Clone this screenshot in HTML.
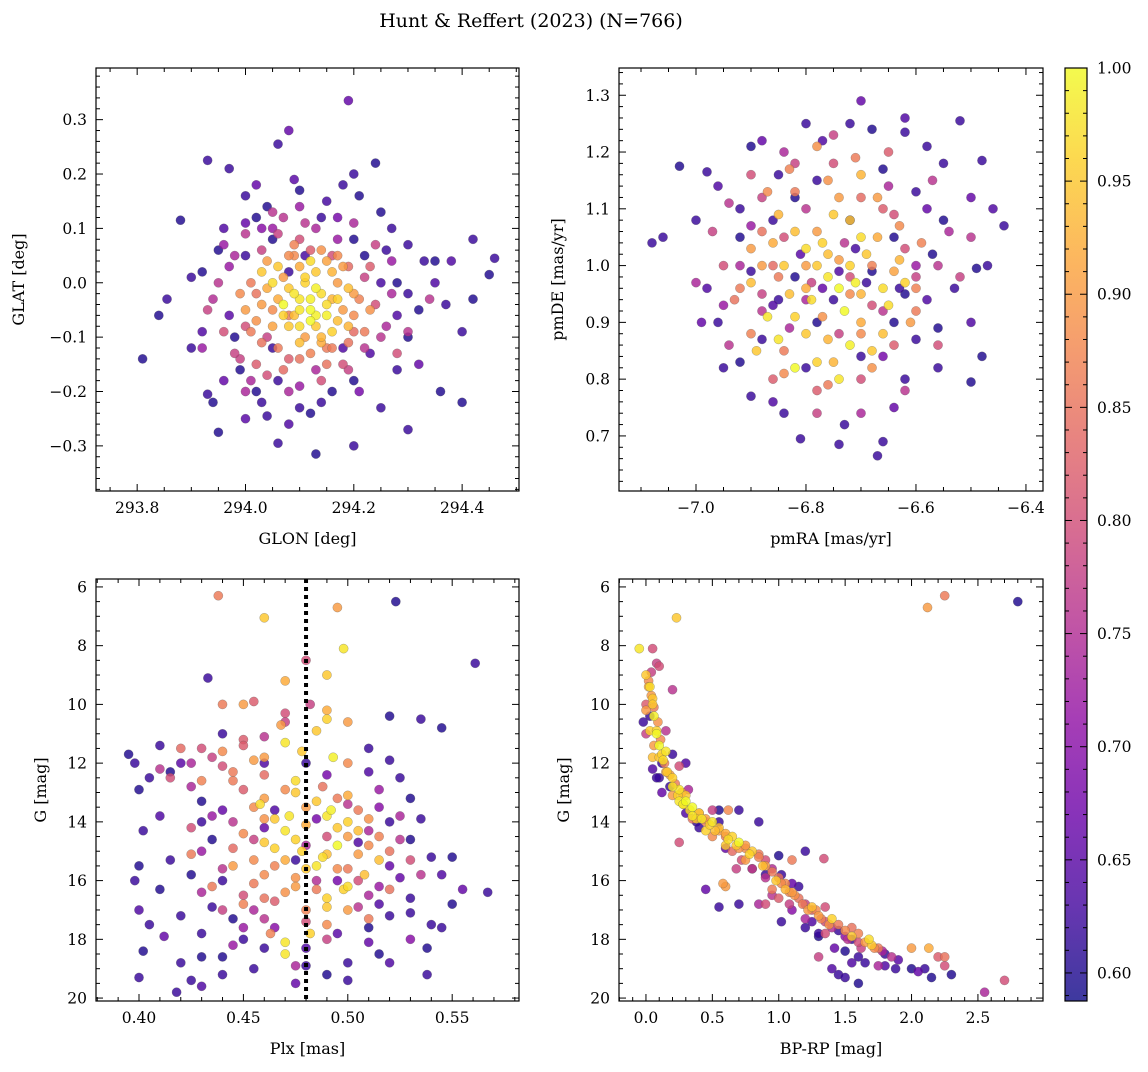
<!DOCTYPE html>
<html><head><meta charset="utf-8">
<style>
html,body{margin:0;padding:0;background:#fff;}
svg text{font-family:"DejaVu Serif","Liberation Serif",serif;fill:#000;}
</style></head>
<body>
<svg id="fig" width="1148" height="1067" viewBox="0 0 1148 1067" xmlns="http://www.w3.org/2000/svg">
<text x="531" y="27" font-size="19" text-anchor="middle">Hunt &amp; Reffert (2023) (N=766)</text>
</svg>
<script>
// ---- Panel 1: GLON / GLAT ----
const p1x=[293.81,293.84,293.855,293.88,293.9,293.92,293.93,293.94,293.95,293.93,293.97,293.96,293.95,293.97,293.99,294.0,294.02,294.04,294.06,294.08,294.1,294.14,294.15,294.19,294.2,294.21,294.24,294.25,294.27,294.3,294.33,294.35,294.38,294.42,294.46,294.45,294.42,294.4,294.36,294.4,294.3,294.28,294.2,294.13,294.06,294.04,294.1,294.12,294.16,294.25,294.0,294.02,294.06,294.2,294.3,294.32,294.28,294.3,293.98,294.0,294.05,294.2,294.22,294.18,294.05,294.08,
293.94,293.97,293.99,294.0,294.02,294.03,294.05,294.07,294.1,294.12,294.16,294.19,294.22,294.24,294.26,294.22,294.18,294.13,294.08,294.04,294.1,294.15,294.01,294.27,294.24,294.03,294.13,294.34,294.08,294.2,
294.06,294.08,294.1,294.11,294.12,294.14,294.15,294.13,294.16,294.18,294.09,294.07,294.1,294.13,294.17,294.05,294.11,294.14,294.19,294.12,294.16,294.03,294.2,294.09,294.15,294.1];
const p1y=[-0.14,-0.06,-0.03,0.115,-0.12,0.02,0.225,-0.22,-0.275,-0.205,0.21,0.1,0.06,-0.06,-0.16,0.16,0.12,0.14,0.255,0.28,0.17,0.12,0.15,0.335,0.2,0.16,0.22,0.13,0.1,0.07,0.04,0.04,0.04,0.08,0.045,0.015,-0.03,-0.09,-0.2,-0.22,-0.27,-0.16,-0.3,-0.315,-0.295,-0.245,-0.23,-0.24,-0.2,-0.23,-0.25,-0.2,-0.18,-0.18,-0.1,-0.05,0.0,-0.02,-0.1,0.05,0.08,0.08,0.05,-0.12,-0.12,0.02,
-0.03,0.03,-0.14,-0.08,-0.02,0.06,0.1,0.12,0.08,0.06,0.05,0.03,0.01,-0.04,-0.08,-0.12,-0.15,-0.16,-0.14,-0.1,-0.19,-0.12,-0.18,0.04,0.07,0.1,0.1,-0.03,-0.06,-0.09,
-0.03,-0.01,-0.03,0.0,-0.05,-0.02,-0.06,-0.08,-0.03,-0.05,-0.06,0.01,0.03,0.02,0.0,-0.05,-0.1,-0.11,-0.08,-0.03,-0.09,-0.04,-0.02,0.05,0.04,-0.08];
const p1p=[.6,.6,.62,.6,.62,.6,.62,.6,.6,.62,.62,.64,.6,.65,.6,.62,.6,.6,.62,.66,.6,.62,.63,.66,.62,.6,.6,.6,.62,.62,.62,.6,.64,.62,.62,.6,.6,.62,.6,.6,.62,.62,.62,.6,.62,.62,.62,.6,.6,.62,.65,.6,.62,.6,.6,.6,.6,.62,.6,.62,.6,.6,.6,.64,.62,.62,
.75,.72,.78,.8,.85,.78,.72,.76,.8,.82,.8,.84,.78,.8,.74,.76,.8,.74,.82,.78,.72,.86,.74,.72,.78,.7,.74,.76,.86,.84,
.92,.95,.98,.96,1.0,.97,.99,.95,.93,.9,.94,.9,.92,.95,.9,.88,.9,.92,.93,.99,.96,.9,.9,.88,.91,.97];
const p1xB=[294.03,294.05,294.07,294.09,294.11,294.13,294.15,294.17,294.12,294.1,294.08,294.14,294.17,294.19,294.06,294.12,294.16,294.1,294.13,294.07,
293.99,294.0,294.01,294.02,294.03,294.04,294.05,294.06,294.08,294.1,294.12,294.14,294.16,294.18,294.2,294.21,294.22,294.23,294.19,294.04,294.17,294.09,294.01,294.15,294.07,
293.93,293.95,293.96,293.98,294.0,294.02,294.04,294.06,294.08,294.11,294.14,294.17,294.19,294.23,294.25,294.27,294.28,293.96,294.05,294.0,293.92,294.3,294.2,294.1,293.98,
293.9,293.92,294.0,294.03,294.09,294.17,294.23,294.26,294.32,294.37,294.35,293.96,294.14,294.08,294.25,294.21,294.18,294.02,294.28,294.11];
const p1yB=[0.02,0.0,-0.04,-0.02,0.01,-0.01,-0.04,-0.07,-0.07,-0.05,-0.08,-0.1,-0.03,-0.01,0.03,0.04,0.02,-0.11,-0.06,-0.06,
-0.02,-0.05,0.0,-0.07,-0.11,0.04,-0.08,-0.12,0.05,-0.14,-0.13,0.06,-0.12,0.03,-0.06,-0.03,-0.09,-0.05,-0.11,-0.01,0.05,0.07,-0.09,-0.15,-0.16,
-0.05,0.0,-0.09,0.05,0.09,-0.15,-0.17,0.09,-0.2,0.11,-0.18,0.08,-0.16,0.03,-0.1,-0.02,-0.13,0.07,0.13,-0.2,-0.12,-0.09,0.11,0.14,-0.13,
0.01,-0.09,0.11,-0.22,0.19,0.12,-0.13,0.06,-0.15,-0.04,0.0,-0.18,-0.22,-0.26,0.0,-0.2,0.18,0.18,-0.06,0.05];
const p1pB=[.95,.97,1.0,.98,.96,.99,.97,.94,1.0,.98,.95,.93,.96,.94,.95,.97,.93,.94,.99,.96,
.88,.9,.86,.89,.85,.9,.91,.86,.88,.85,.87,.89,.86,.9,.88,.87,.86,.89,.85,.92,.88,.87,.86,.85,.84,
.78,.76,.8,.74,.76,.82,.8,.78,.74,.76,.8,.72,.78,.82,.76,.74,.8,.72,.76,.74,.72,.76,.74,.72,.78,
.62,.64,.66,.62,.65,.68,.64,.62,.66,.62,.64,.66,.62,.64,.63,.68,.62,.66,.64,.63];

// ---- Panel 2: pmRA / pmDE ----
const p2x=[-7.08,-7.06,-7.03,-6.98,-6.9,-6.85,-6.77,-6.7,-6.72,-6.68,-6.62,-6.58,-6.52,-6.48,-6.44,-6.46,-6.49,-6.53,-6.48,-6.5,-6.56,-6.6,-6.62,-6.67,-6.66,-6.74,-6.81,-6.84,-6.9,-6.92,-6.88,-6.96,-6.98,-6.92,-6.86,-6.82,-6.78,-6.66,-6.6,-6.55,-6.57,-6.62,-6.64,-6.7,-6.8,-6.85,-6.82,-6.75,-6.68,-6.72,-6.64,-6.78,-6.58,-6.9,
-6.95,-6.92,-6.88,-6.84,-6.8,-6.75,-6.7,-6.66,-6.62,-6.6,-6.64,-6.7,-6.78,-6.84,-6.88,-6.86,-6.74,-6.68,-6.56,-6.9,-6.8,-6.73,-6.65,-6.82,-6.6,-6.95,
-6.76,-6.74,-6.78,-6.72,-6.8,-6.7,-6.76,-6.84,-6.82,-6.85,-6.76,-6.68,-6.7,-6.67,-6.72,-6.78,-6.88,-6.9,-6.82,-6.75,-6.66,-6.74,-6.8,-6.64,-6.86,-6.7];
const p2y=[1.04,1.05,1.175,1.165,1.21,1.16,1.22,1.29,1.25,1.24,1.235,1.21,1.255,1.185,1.07,1.1,0.995,0.96,0.84,0.795,0.89,0.87,0.8,0.665,0.69,0.685,0.695,0.74,0.77,0.83,0.87,0.9,0.96,1.05,1.08,1.12,1.15,1.17,1.13,1.08,1.02,0.95,0.9,0.84,0.82,0.94,0.98,0.94,0.99,1.08,1.05,0.9,0.94,0.99,
1.0,0.96,1.12,1.05,1.1,1.18,1.12,1.1,1.03,0.98,0.86,0.8,0.78,0.85,0.92,1.0,0.88,0.93,1.0,1.07,0.94,1.04,1.14,1.18,0.92,0.93,
0.98,0.96,1.0,1.0,0.96,0.95,1.02,1.0,0.91,0.87,0.87,0.85,0.9,1.05,1.08,1.06,1.0,0.97,0.82,0.83,0.96,1.12,1.03,0.99,1.04,1.16];
const p2p=[.62,.62,.6,.62,.6,.62,.64,.66,.62,.6,.62,.62,.62,.62,.62,.64,.6,.62,.6,.6,.6,.62,.62,.62,.62,.62,.62,.62,.62,.6,.62,.62,.64,.6,.62,.6,.62,.6,.62,.6,.6,.6,.6,.62,.62,.62,.6,.62,.6,.62,.6,.6,.64,.62,
.8,.86,.78,.8,.76,.8,.84,.82,.8,.78,.82,.8,.82,.86,.76,.84,.78,.8,.76,.72,.74,.76,.74,.78,.86,.72,
.98,1.0,.95,.96,.92,.93,.94,.95,.96,.98,.93,.95,.92,.92,.95,.9,.9,.94,1.0,.93,.97,.9,.97,.91,.92,.93];
const p2xB=[-6.79,-6.71,-6.69,-6.73,-6.77,-6.83,-6.65,-6.63,-6.87,-6.8,-6.72,-6.78,-6.66,-6.85,-6.75,-6.7,-6.82,-6.62,-6.74,-6.89,
-6.9,-6.87,-6.83,-6.78,-6.71,-6.67,-6.63,-6.59,-6.61,-6.68,-6.76,-6.84,-6.9,-6.93,-6.8,-6.72,-6.77,-6.68,-6.85,-6.74,-6.88,-6.7,-6.6,-6.82,-6.76,
-6.97,-6.94,-6.9,-6.84,-6.75,-6.65,-6.57,-6.54,-6.52,-6.56,-6.62,-6.7,-6.78,-6.86,-6.94,-7.0,-6.72,-6.79,-6.66,-6.83,-6.64,-6.6,-6.88,-6.5,-6.92,
-7.0,-6.96,-6.88,-6.8,-6.62,-6.55,-6.5,-6.47,-6.5,-6.56,-6.64,-6.73,-6.86,-6.95,-6.99,-6.74,-6.69,-6.77,-6.71,-6.81,-6.63,-6.86,-6.58,-6.92,-6.66];
const p2yB=[0.94,0.97,1.02,0.92,1.04,0.95,0.93,1.01,0.91,0.88,0.86,0.83,0.88,1.09,1.09,1.05,1.06,0.97,0.8,0.85,
1.03,1.13,1.17,1.21,1.19,1.12,1.07,1.04,0.9,0.82,0.79,0.81,0.88,0.94,1.0,0.95,0.91,1.0,0.98,1.01,1.06,0.88,0.96,1.13,1.15,
1.06,1.11,1.16,1.2,1.23,1.2,1.15,1.06,0.98,0.86,0.78,0.74,0.74,0.8,0.86,0.97,0.98,0.97,0.92,0.89,1.09,1.0,0.95,1.05,1.0,
1.08,1.14,1.22,1.25,1.26,1.18,1.12,1.0,0.9,0.82,0.75,0.72,0.76,0.82,0.9,0.99,0.97,0.96,1.03,1.02,0.96,0.93,1.1,1.1,0.84];
const p2pB=[.97,.99,.95,1.0,.96,.94,.97,.93,.98,.95,.99,.96,.94,.93,.95,.97,.94,.96,.98,.95,
.9,.88,.87,.89,.86,.9,.88,.87,.9,.89,.86,.88,.87,.85,.9,.88,.89,.87,.86,.9,.85,.88,.87,.86,.89,
.78,.76,.8,.74,.78,.82,.76,.74,.78,.8,.76,.74,.78,.82,.76,.74,.8,.78,.76,.74,.8,.72,.78,.76,.74,
.62,.64,.66,.62,.64,.62,.66,.62,.64,.62,.66,.62,.64,.62,.66,.64,.62,.66,.63,.65,.62,.64,.66,.62,.68];

// ---- Panel 3: Plx / G ----
const p3x=[0.438,0.46,0.495,0.498,0.523,0.561,0.47,0.433,0.48,0.49,0.45,0.44,0.455,0.49,0.5,0.485,0.52,0.535,0.545,0.47,0.46,0.43,0.42,0.41,0.395,0.398,0.4,0.402,0.4,0.398,0.41,0.405,0.402,0.4,0.418,0.425,0.43,0.42,0.415,0.42,0.425,0.43,0.44,0.445,0.45,0.455,0.46,0.465,0.47,0.475,0.48,0.49,0.495,0.5,0.505,0.51,0.515,0.52,0.53,0.54,0.55,0.567,0.55,0.54,0.538,0.538,0.53,0.52,0.51,0.5,0.49,0.485,0.478,0.47,0.46,0.455,0.45,0.44,0.43,0.435,0.445,0.45,0.46,0.475,0.49,0.5,0.505,0.52,0.53,0.515,0.5,0.49,0.48,0.47,0.46,0.45,0.44,0.43,0.435,0.445,0.465,0.48,0.495,0.51,0.525,0.53,0.51,0.48,0.46,0.44,0.45,0.47,0.51,0.52,0.475,0.5,0.488,0.465,0.485,0.498,0.455,0.44,0.425,0.43];
const p3y=[6.3,7.05,6.7,8.1,6.5,8.6,9.2,9.1,8.5,9.0,10.0,10.0,9.9,10.2,10.6,10.9,10.4,10.5,10.8,11.3,11.8,11.5,11.5,11.4,11.7,12.0,12.9,14.3,15.5,16.0,16.3,17.5,18.4,19.3,19.8,19.4,18.6,17.2,12.3,12.0,12.8,13.3,12.1,12.6,12.9,13.5,13.2,13.9,14.3,14.6,14.1,13.8,14.2,14.5,13.6,14.8,13.5,14.0,14.6,15.2,15.2,16.4,16.8,17.5,18.3,19.2,18.0,17.2,16.5,17.0,16.6,15.5,15.0,15.3,15.8,16.1,16.5,15.6,15.0,14.6,14.9,14.4,14.7,16.2,15.1,15.6,16.0,15.5,16.6,18.5,18.8,19.2,18.9,18.1,18.3,18.0,18.6,17.8,16.9,17.3,17.6,17.4,17.8,17.6,12.5,13.2,12.3,12.0,12.4,11.0,11.2,10.6,11.5,11.9,13.0,13.1,12.8,16.7,16.0,16.3,17.0,16.0,15.8,14.0];
const p3p=[.86,.95,.9,.98,.6,.62,.92,.62,.8,.95,.9,.86,.82,.92,.9,.95,.6,.62,.6,.98,.9,.8,.84,.62,.6,.62,.6,.62,.6,.62,.6,.62,.6,.62,.62,.62,.6,.62,.6,.65,.74,.6,.8,.86,.82,.88,.9,.95,.98,.96,.92,.98,.95,.9,.86,.88,.7,.62,.6,.62,.6,.62,.6,.62,.6,.62,.7,.62,.74,.9,.96,.98,.96,.92,.88,.86,.8,.76,.72,.6,.84,.88,.95,.9,.94,.86,.8,.66,.62,.6,.62,.6,.62,.98,.62,.62,.6,.62,.62,.6,.7,.8,.65,.6,.62,.6,.64,.62,.84,.62,.82,.78,.62,.62,.95,.92,.85,.82,.75,.96,.74,.62,.6,.62];
const p3xB=[0.475,0.485,0.492,0.5,0.505,0.495,0.488,0.48,0.472,0.465,0.508,0.5,0.49,0.482,0.47,0.515,0.458,0.478,0.49,0.493,
0.44,0.445,0.455,0.43,0.46,0.47,0.48,0.495,0.51,0.515,0.52,0.505,0.495,0.485,0.475,0.465,0.455,0.445,0.435,0.46,0.48,0.51,0.49,0.47,0.425,0.45,0.5,0.468,0.52,0.463,
0.41,0.415,0.425,0.435,0.45,0.46,0.47,0.482,0.51,0.525,0.53,0.515,0.505,0.49,0.475,0.46,0.45,0.44,0.43,0.425,0.435,0.445,0.455,0.48,0.49,0.5,0.515,0.525,0.535,0.445,
0.405,0.41,0.412,0.42,0.43,0.455,0.475,0.5,0.52,0.545,0.555,0.545,0.535,0.525,0.505,0.485,0.465,0.46,0.475,0.495,0.515,0.53,0.51,0.48,0.44,0.4,0.415,0.44,0.46,0.49];
const p3yB=[12.6,13.3,13.6,14.0,14.3,14.8,15.2,15.6,13.8,14.9,15.8,16.2,16.9,17.8,18.5,15.3,13.4,11.6,10.5,11.8,
11.6,12.3,11.9,12.6,13.9,12.9,13.5,13.2,13.9,14.5,15.0,15.1,15.6,16.3,15.9,15.5,15.3,15.5,16.2,16.6,17.0,17.3,17.5,16.4,15.1,16.8,12.0,10.7,16.3,17.8,
12.2,12.5,12.0,11.8,11.4,11.1,10.3,10.0,14.3,14.6,15.3,16.2,16.9,18.0,18.9,17.3,17.6,17.0,16.4,14.2,13.8,14.0,14.6,14.8,14.5,13.4,12.9,13.8,15.8,18.2,
12.5,13.8,17.9,18.8,19.6,19.0,19.5,19.4,18.8,17.6,16.3,15.8,13.9,15.9,14.7,13.9,13.6,14.2,15.3,16.0,16.8,17.1,18.1,18.3,19.2,17.0,15.3,13.6,12.0,12.4];
const p3pB=[.97,.95,.99,.96,.94,1.0,.97,.95,.98,.96,.94,.97,.95,.96,.98,.94,.97,.95,.96,.99,
.88,.86,.9,.87,.89,.88,.9,.86,.89,.87,.85,.9,.88,.86,.89,.87,.88,.9,.86,.85,.87,.86,.88,.89,.86,.87,.88,.9,.85,.87,
.76,.8,.74,.78,.82,.76,.8,.78,.74,.76,.8,.72,.76,.78,.74,.76,.72,.78,.74,.8,.72,.76,.78,.74,.8,.76,.72,.74,.76,.72,
.62,.64,.66,.62,.64,.62,.66,.62,.64,.62,.66,.64,.62,.66,.64,.68,.64,.66,.62,.68,.64,.62,.66,.64,.62,.64,.62,.66,.64,.68];

// ---- Panel 4: BP-RP / G ----
const p4x=[-0.05,0.05,0.08,0.0,0.02,0.05,0.0,-0.02,0.03,0.08,0.06,0.1,0.12,0.15,0.2,0.18,0.25,0.3,0.28,0.35,0.4,0.45,0.38,0.5,0.55,0.6,0.65,0.7,0.75,0.8,0.85,0.9,0.95,1.0,1.05,1.1,1.15,1.2,1.25,1.3,1.35,1.4,1.45,1.5,1.55,1.6,1.7,1.75,1.8,1.9,2.0,2.0,2.1,2.15,2.3,2.25,2.55,2.7,1.45,1.6,1.3,1.02,0.9,0.6,0.55,1.2,1.34,1.0,0.85,0.7,2.12,2.25,2.8,0.23,1.0,1.1,1.2,1.3,1.5,1.65,0.8,0.9,0.65,0.5,0.35,0.2,0.1,0.15,0.6,0.75,0.95,1.15,1.35,1.55,0.45,0.25,0.05,0.55];
const p4y=[8.1,8.1,8.6,9.0,9.4,9.8,10.2,10.6,10.9,11.0,11.4,11.8,12.0,12.3,12.5,12.8,12.9,13.1,13.4,13.5,13.7,13.9,14.0,14.0,14.2,14.4,14.5,14.7,14.8,15.0,15.1,15.3,15.6,15.9,16.1,16.4,16.6,16.8,17.0,17.2,17.4,17.6,17.7,17.9,18.0,18.1,18.2,18.3,18.5,18.7,18.3,19.0,19.0,19.3,19.2,18.6,19.8,19.4,19.2,19.5,18.6,17.4,16.8,16.2,16.9,15.0,15.25,15.15,14.0,13.6,6.7,6.3,6.5,7.05,16.6,17.0,17.6,17.9,18.4,18.8,15.6,15.8,15.0,14.5,13.9,13.1,12.5,11.6,14.8,15.3,16.3,16.2,16.9,17.6,14.3,13.3,11.8,13.6];
const p4p=[.98,.8,.78,.95,.92,.95,.9,.62,.96,1.0,.9,.95,.62,.92,.96,.62,.98,.95,.92,1.0,.95,.9,.62,.98,.94,.92,.96,1.0,.9,.95,.86,.8,.75,.85,.88,.9,.85,.78,.82,.9,.8,.75,.62,.7,.62,.8,.95,.86,.62,.65,.9,.6,.62,.6,.6,.85,.74,.8,.62,.6,.78,.62,.8,.9,.62,.62,.8,.6,.62,.62,.9,.86,.6,.95,.82,.7,.62,.6,.6,.62,.78,.62,.84,.88,.85,.9,.62,.98,.95,.9,.86,.62,.8,.85,.96,.98,.94,.6];
const p4xB=[0.03,0.05,0.06,0.08,0.1,0.13,0.16,0.2,0.24,0.28,0.33,0.38,0.42,0.48,0.52,0.62,0.68,0.78,0.88,0.98,1.05,1.25,1.4,1.55,1.68,0.35,0.12,0.3,
0.02,0.04,0.06,0.09,0.11,0.14,0.18,0.22,0.27,0.4,0.45,0.55,0.6,0.7,0.75,0.85,0.9,0.95,1.02,1.08,1.12,1.18,1.22,1.28,1.32,1.38,1.45,1.5,1.6,1.65,1.72,2.13,0.58,1.1,0.62,
0.1,0.04,0.2,0.0,0.0,0.15,0.25,0.32,0.5,0.72,0.9,1.08,1.2,1.35,1.52,1.62,1.78,1.85,0.25,0.68,0.85,0.95,1.75,2.25,2.2,
0.03,0.05,0.08,0.12,0.3,0.4,0.6,0.55,0.8,1.02,1.1,1.25,1.3,1.42,1.55,1.6,1.8,1.88,0.45,0.7,1.4,1.5,2.05,0.3,0.2];
const p4yB=[9.4,10.0,10.4,10.9,11.4,11.9,12.3,12.8,13.1,13.4,13.6,13.9,13.9,14.1,14.3,14.6,14.8,15.1,15.5,16.0,16.3,16.9,17.3,17.9,18.0,13.8,11.7,13.3,
9.2,9.7,10.1,10.6,11.2,12.0,12.4,12.7,13.0,13.7,14.0,14.3,14.5,14.9,14.9,15.2,15.5,15.7,16.1,16.4,16.5,16.8,17.0,17.0,17.3,17.5,17.5,17.7,17.8,18.1,18.3,18.3,16.1,15.3,13.6,
8.7,8.9,9.5,10.0,11.0,10.9,12.1,12.9,13.6,15.3,15.9,16.8,17.3,17.8,18.0,18.3,18.4,18.6,14.7,15.6,16.8,16.5,18.9,18.9,18.6,
10.4,12.2,12.5,13.0,13.7,14.2,14.9,14.0,15.6,15.8,16.1,17.4,17.8,18.3,18.8,18.6,18.9,19.0,16.3,16.8,19.0,19.3,19.1,12.0,11.7];
const p4pB=[.97,.95,.99,.96,1.0,.97,.95,.98,.96,.99,.97,.95,.98,.96,.94,.97,.95,.96,.94,.95,.93,.94,.96,.95,.97,.98,.96,1.0,
.88,.9,.86,.89,.88,.87,.9,.86,.89,.88,.87,.9,.86,.89,.88,.87,.9,.86,.88,.87,.89,.86,.9,.88,.87,.89,.86,.88,.87,.9,.88,.92,.9,.86,.88,
.8,.78,.76,.82,.78,.76,.8,.74,.78,.8,.76,.78,.74,.8,.76,.78,.74,.76,.8,.78,.74,.76,.74,.8,.82,
.62,.64,.62,.66,.64,.62,.66,.62,.64,.62,.66,.64,.62,.66,.64,.62,.64,.62,.66,.62,.64,.62,.66,.64,.62];

// colorbar ticks
const cbTicks=[0.60,0.65,0.70,0.75,0.80,0.85,0.90,0.95,1.00];

const NS="http://www.w3.org/2000/svg";
const svg=document.getElementById('fig');
function mk(tag,attrs,parent){const e=document.createElementNS(NS,tag);for(const k in attrs)e.setAttribute(k,attrs[k]);(parent||svg).appendChild(e);return e;}

const plasma=[[13,8,135],[65,4,157],[106,0,168],[143,13,164],[177,42,144],[204,71,120],[225,100,98],[242,132,75],[252,166,54],[252,206,37],[240,249,33]];
const CMIN=0.5876,CMAX=1.0;
function cmap(v){let t=(v-CMIN)/(CMAX-CMIN);t=Math.max(0,Math.min(1,t));const f=t*10,i=Math.min(9,Math.floor(f)),r=f-i;const a=plasma[i],b=plasma[i+1];
 return 'rgb('+[0,1,2].map(k=>Math.round(a[k]+(b[k]-a[k])*r)).join(',')+')';}

function fmt(v,d){let s=v.toFixed(d);if(s.startsWith('-'))s='\u2212'+s.slice(1);if(/^\u2212?0(\.0+)?$/.test(s))s=s.replace('\u2212','');return s;}

function panel(cfg){
 const {name,x0,x1,y0,y1,xmin,xmax,ymin,ymax,invY,xs,ys,ps,xMaj,xMin,yMaj,yMin,xd,yd,xlabel,ylabel,ylabelX}=cfg;
 const g=mk('g',{});
 
 
 const sx=v=>x0+(v-xmin)/(xmax-xmin)*(x1-x0);
 const sy=v=>invY? y0+(v-ymin)/(ymax-ymin)*(y1-y0) : y1-(v-ymin)/(ymax-ymin)*(y1-y0);
 const clipId='clip-'+name;
 const cp=mk('clipPath',{id:clipId},g);mk('rect',{x:x0,y:y0,width:x1-x0,height:y1-y0},cp);
 const pts=mk('g',{'clip-path':'url(#'+clipId+')'},g);
 
 
 const n=Math.min(xs.length,ys.length,ps.length);
 const idx=[];for(let i=0;i<n;i++){if(typeof xs[i]==='number'&&typeof ys[i]==='number'&&typeof ps[i]==='number')idx.push(i);}
 idx.sort((a,b)=>ps[a]-ps[b]);
 for(const i of idx){
  const c=mk('circle',{cx:sx(xs[i]).toFixed(1),cy:sy(ys[i]).toFixed(1),r:4.6,fill:cmap(ps[i]),'fill-opacity':0.82,stroke:'#555','stroke-opacity':0.5,'stroke-width':0.5},pts);
  
  
 }
 if(cfg.vline!==undefined){
  const l=mk('line',{x1:sx(cfg.vline),x2:sx(cfg.vline),y1:y0,y2:y1,stroke:'#000','stroke-width':4,'stroke-dasharray':'4,4'},g);
  
  
 }
 const fr=mk('rect',{x:x0,y:y0,width:x1-x0,height:y1-y0,fill:'none',stroke:'#000','stroke-width':1.2},g);
 
 
 const eps=1e-9;
 for(let k=Math.ceil(xmin/xMin-eps);k*xMin<=xmax+eps;k++){
  const v=k*xMin;const px=sx(v);const isMaj=Math.abs(v/xMaj-Math.round(v/xMaj))<1e-6;const L=isMaj?7:4;
  mk('line',{x1:px,x2:px,y1:y1,y2:y1-L,stroke:'#000','stroke-width':1},g);
  mk('line',{x1:px,x2:px,y1:y0,y2:y0+L,stroke:'#000','stroke-width':1},g);
  if(isMaj){const t=mk('text',{x:px,y:y1+22,'font-size':15.5,'text-anchor':'middle'},g);t.textContent=fmt(Math.round(v/xMaj)*xMaj,xd);
   
   }
 }
 for(let k=Math.ceil(ymin/yMin-eps);k*yMin<=ymax+eps;k++){
  const v=k*yMin;const py=sy(v);const isMaj=Math.abs(v/yMaj-Math.round(v/yMaj))<1e-6;const L=isMaj?7:4;
  mk('line',{x1:x0,x2:x0+L,y1:py,y2:py,stroke:'#000','stroke-width':1},g);
  mk('line',{x1:x1,x2:x1-L,y1:py,y2:py,stroke:'#000','stroke-width':1},g);
  if(isMaj){const t=mk('text',{x:x0-9,y:py+5.5,'font-size':15.5,'text-anchor':'end'},g);t.textContent=fmt(Math.round(v/yMaj)*yMaj,yd);
   
   }
 }
 const xl=mk('text',{x:(x0+x1)/2,y:y1+53,'font-size':16,'text-anchor':'middle'},g);xl.textContent=xlabel;
 
 
 const yc=(y0+y1)/2;
 const yl=mk('text',{x:ylabelX,y:yc,'font-size':16,'text-anchor':'middle',transform:'rotate(-90 '+ylabelX+' '+yc+')'},g);yl.textContent=ylabel;
 
 
}

panel({name:'glon-glat-panel',x0:96,x1:519,y0:68,y1:491,xmin:293.724,xmax:294.505,ymin:-0.383,ymax:0.395,xs:p1x.concat(p1xB),ys:p1y.concat(p1yB),ps:p1p.concat(p1pB),xMaj:0.2,xMin:0.05,yMaj:0.1,yMin:0.02,xd:1,yd:1,xlabel:'GLON [deg]',ylabel:'GLAT [deg]',ylabelX:24});
panel({name:'pm-panel',x0:619,x1:1043,y0:68,y1:491,xmin:-7.14,xmax:-6.369,ymin:0.603,ymax:1.348,xs:p2x.concat(p2xB),ys:p2y.concat(p2yB),ps:p2p.concat(p2pB),xMaj:0.2,xMin:0.05,yMaj:0.1,yMin:0.02,xd:1,yd:1,xlabel:'pmRA [mas/yr]',ylabel:'pmDE [mas/yr]',ylabelX:563});
panel({name:'plx-g-panel',x0:96,x1:519,y0:579,y1:1001,xmin:0.3794,xmax:0.582,ymin:5.73,ymax:20.1,invY:true,xs:p3x.concat(p3xB),ys:p3y.concat(p3yB),ps:p3p.concat(p3pB),xMaj:0.05,xMin:0.01,yMaj:2,yMin:0.5,xd:2,yd:0,xlabel:'Plx [mas]',ylabel:'G [mag]',ylabelX:46,vline:0.48});
panel({name:'cmd-panel',x0:619,x1:1043,y0:579,y1:1001,xmin:-0.203,xmax:2.99,ymin:5.73,ymax:20.1,invY:true,xs:p4x.concat(p4xB),ys:p4y.concat(p4yB),ps:p4p.concat(p4pB),xMaj:0.5,xMin:0.1,yMaj:2,yMin:0.5,xd:1,yd:0,xlabel:'BP-RP [mag]',ylabel:'G [mag]',ylabelX:569});

(function(){
 const cx0=1065,cx1=1087,cy0=68,cy1=1001;
 const g=mk('g',{});
 
 
 const defs=mk('defs',{},g);
 const lg=mk('linearGradient',{id:'cbg',x1:0,y1:1,x2:0,y2:0},defs);
 for(let i=0;i<=10;i++){mk('stop',{offset:(i/10),'stop-color':'rgb('+plasma[i].join(',')+')','stop-opacity':0.8},lg);}
 mk('rect',{x:cx0,y:cy0,width:cx1-cx0,height:cy1-cy0,fill:'url(#cbg)'},g);
 mk('rect',{x:cx0,y:cy0,width:cx1-cx0,height:cy1-cy0,fill:'none',stroke:'#000','stroke-width':1.2},g);
 const sy=v=>cy1-(v-CMIN)/(CMAX-CMIN)*(cy1-cy0);
 for(let k=59;k<=100;k++){const v=k/100;const py=sy(v);const maj=(k%5===0);
  mk('line',{x1:cx1,x2:cx1-(maj?7:4),y1:py,y2:py,stroke:'#000','stroke-width':1},g);
  mk('line',{x1:cx0,x2:cx0+(maj?7:4),y1:py,y2:py,stroke:'#000','stroke-width':1},g);}
 for(const v of cbTicks){const t=mk('text',{x:cx1+10,y:sy(v)+5.5,'font-size':15.5},g);t.textContent=v.toFixed(2);
  
  }
})();
</script>
</body></html>
